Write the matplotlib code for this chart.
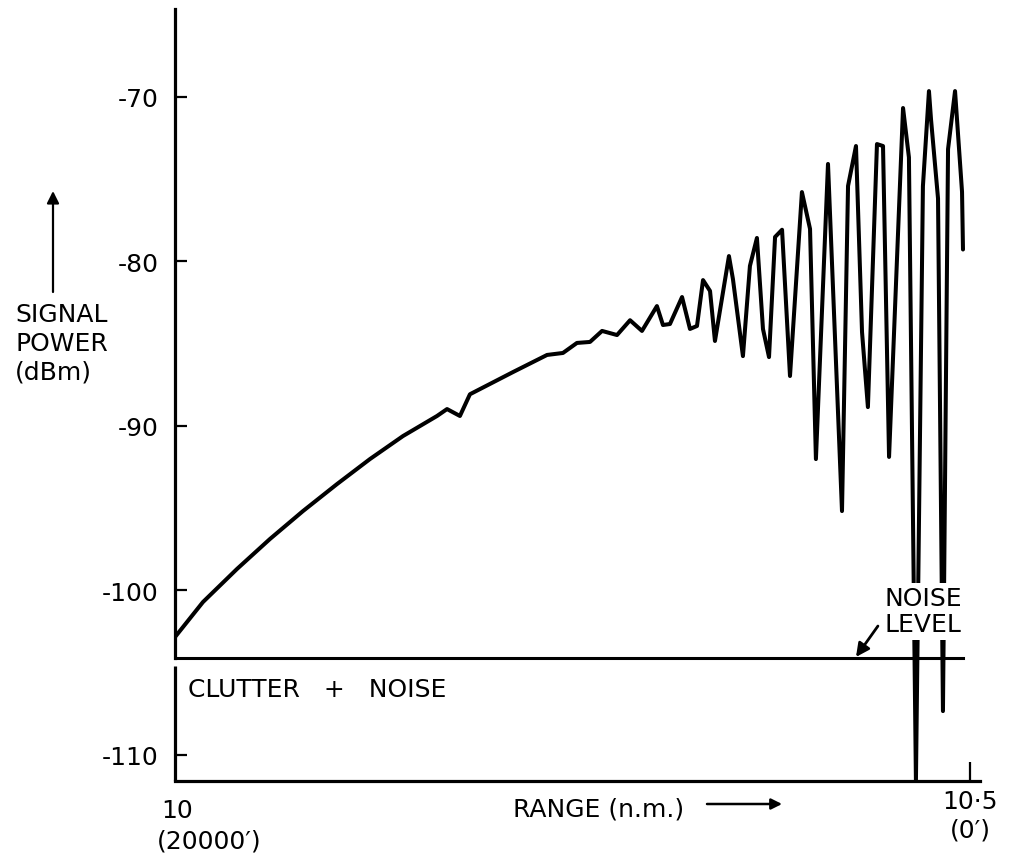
import numpy as np
import matplotlib.pyplot as plt

# received signal power vs range
range_nm = [10.0, 10.0176, 10.0390, 10.0597, 10.0805, 10.1019, 10.1226, 10.1434,
            10.1648, 10.1711, 10.1792, 10.1855, 10.2126, 10.2340, 10.2440, 10.2528,
            10.2610, 10.2686, 10.2780, 10.2862, 10.2937, 10.3031, 10.3069, 10.3113,
            10.3189, 10.3239, 10.3283, 10.3321, 10.3365, 10.3396, 10.3484, 10.3509,
            10.3572, 10.3616, 10.3660, 10.3698, 10.3736, 10.3774, 10.3818, 10.3868,
            10.3943, 10.3994, 10.4031, 10.4107, 10.4195, 10.4233, 10.4283, 10.4321,
            10.4358, 10.4415, 10.4453, 10.4491, 10.4579, 10.4616, 10.4660, 10.4704,
            10.4742, 10.4755, 10.4799, 10.4830, 10.4862, 10.4906, 10.4950, 10.4956]
power_dbm = [-102.86, -100.73, -98.72, -96.90, -95.20, -93.56, -92.04, -90.64,
             -89.42, -89.0, -89.42, -88.1, -86.75, -85.71, -85.59, -84.98,
             -84.92, -84.25, -84.5, -83.6, -84.25, -82.74, -83.89, -83.83,
             -82.19, -84.13, -83.95, -81.16, -81.82, -84.86, -79.70, -81.09,
             -85.78, -80.30, -78.60, -84.13, -85.84, -78.54, -78.1, -86.99,
             -75.81, -78.05, -92.04, -74.10, -95.20, -75.44, -73.01, -84.32,
             -88.88, -72.89, -73.01, -91.91, -70.70, -73.7, -111.61, -75.45,
             -69.67, -71.4, -76.2, -107.36, -73.2, -69.67, -75.8, -79.3]

noise_level = -104.13
ytick_vals = [-70, -80, -90, -100, -110]
ytick_labels = ['-70', '-80', '-90', '-100', '-110']

plt.rcParams['font.family'] = ['DejaVu Sans']
FS = 18

fig = plt.figure(figsize=(10.09, 8.54), dpi=100)
ax = fig.add_axes([175 / 1009, 72 / 854, 805 / 1009, 772 / 854])
ax.set_xlim(10.0, 10.5063)
ax.set_ylim(-111.61, -64.68)

# signal trace
ax.plot(range_nm, power_dbm, color='black', lw=2.9, solid_joinstyle='round',
        solid_capstyle='round', zorder=3)

# noise level line
ax.plot([10.0, 10.4956], [noise_level, noise_level], color='black', lw=2.2, zorder=2)

# spines
for s in ['top', 'right']:
    ax.spines[s].set_visible(False)
ax.spines['bottom'].set_linewidth(2.3)
ax.spines['left'].set_linewidth(2.3)
ax.spines['left'].set_bounds(noise_level, -64.68)
ax.plot([10.0, 10.0], [-111.61, -104.6], color='black', lw=2.3, clip_on=False,
        solid_capstyle='butt', zorder=2)

ax.set_yticks(ytick_vals)
ax.set_yticklabels(ytick_labels)
ax.tick_params(axis='y', direction='in', length=8.5, width=1.6, pad=12, labelsize=FS)
ax.set_xticks([10.5])
ax.set_xticklabels(['10\u00b75\n(0\u2032)'])
ax.tick_params(axis='x', direction='in', length=14, width=1.6, pad=6, labelsize=FS)
for lab in ax.get_xticklabels():
    lab.set_linespacing(1.2)

# left x label
xt = ax.get_xaxis_transform()
ax.text(10.0013, -0.0466, '10', transform=xt, ha='center', va='baseline', fontsize=FS)
ax.text(9.9885, -0.0855, '(20000\u2032)', transform=xt, ha='left', va='baseline',
        fontsize=FS)

# range label with arrow
ax.text(10.2126, -0.0453, 'RANGE (n.m.)', transform=xt, ha='left', va='baseline',
        fontsize=FS)
ax.annotate('', xy=(10.3818, -0.0298), xytext=(10.3346, -0.0298),
            xycoords=xt, textcoords=xt, annotation_clip=False,
            arrowprops=dict(arrowstyle='-|>', color='black', lw=1.8,
                            mutation_scale=16, shrinkA=0, shrinkB=0))

# y label with arrow
fig.text(15 / 1009, 1 - 303 / 854, 'SIGNAL\nPOWER\n(dBm)', ha='left', va='top',
         fontsize=FS, linespacing=1.25)
ax.annotate('', xy=(53, 854 - 192), xytext=(53, 854 - 293),
            xycoords='figure pixels', textcoords='figure pixels',
            annotation_clip=False,
            arrowprops=dict(arrowstyle='-|>', color='black', lw=1.6,
                            mutation_scale=18, shrinkA=0, shrinkB=0))

# annotations inside
ax.text(10.0082, -106.45, 'CLUTTER   +   NOISE', ha='left', va='baseline', fontsize=FS)
ax.text(10.4704, -101.3, 'NOISE\nLEVEL', ha='center', va='center', fontsize=FS,
        linespacing=1.1, zorder=5,
        bbox=dict(facecolor='white', edgecolor='none', pad=2.5))
ax.annotate('', xy=(10.4283, -104.07), xytext=(10.4421, -102.19),
            arrowprops=dict(arrowstyle='-|>', color='black', lw=2.0,
                            mutation_scale=20, shrinkA=0, shrinkB=0), zorder=6)

fig.savefig('out.png', dpi=100)
